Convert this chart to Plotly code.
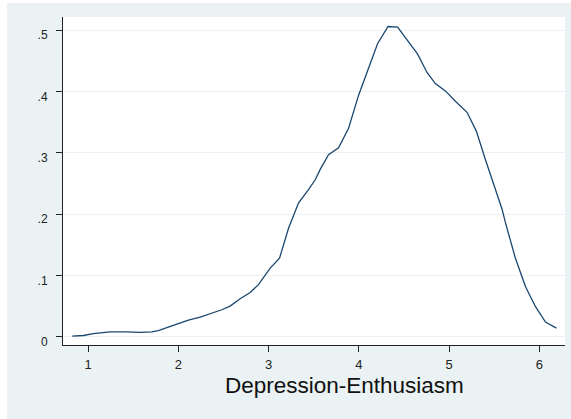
import plotly.graph_objects as go

x_vals = [0.826, 0.948, 1.059, 1.170, 1.244, 1.429, 1.576, 1.706, 1.779, 1.873,
          2.001, 2.112, 2.242, 2.371, 2.482, 2.574, 2.685, 2.796, 2.888, 3.018,
          3.121, 3.221, 3.331, 3.442, 3.517, 3.572, 3.664, 3.775, 3.886, 3.997,
          4.108, 4.207, 4.323, 4.429, 4.540, 4.651, 4.755, 4.847, 4.958, 5.069,
          5.198, 5.302, 5.401, 5.493, 5.586, 5.623, 5.734, 5.845, 5.956, 6.067,
          6.188]
density = [0.001, 0.002, 0.005, 0.007, 0.008, 0.008, 0.007, 0.008, 0.010, 0.015,
           0.022, 0.027, 0.032, 0.038, 0.044, 0.050, 0.062, 0.072, 0.085, 0.112,
           0.128, 0.177, 0.218, 0.240, 0.256, 0.273, 0.297, 0.308, 0.340, 0.394,
           0.438, 0.478, 0.506, 0.505, 0.483, 0.461, 0.431, 0.413, 0.401, 0.384,
           0.366, 0.335, 0.289, 0.248, 0.208, 0.186, 0.128, 0.082, 0.049, 0.024,
           0.014]

x_ticks = [1, 2, 3, 4, 5, 6]
x_tick_labels = ["1", "2", "3", "4", "5", "6"]
y_ticks = [0, 0.1, 0.2, 0.3, 0.4, 0.5]
y_tick_labels = ["0", ".1", ".2", ".3", ".4", ".5"]
x_title = "Depression-Enthusiasm"

BG = "#EAF2F3"
NAVY = "#1A476F"

fig = go.Figure()
fig.add_trace(go.Scatter(x=x_vals, y=density, mode="lines",
                         line=dict(color=NAVY, width=1.3), showlegend=False,
                         hoverinfo="skip"))

L, R, T, B = 63, 6, 17, 74
W, H = 571, 419
pw, ph = W - L - R, H - T - B

def px_x(p):
    return (p - L) / pw

def px_y(p):
    return (H - B - p) / ph

fig.update_layout(
    width=W, height=H,
    margin=dict(l=L, r=R, t=T, b=B, pad=0, autoexpand=False),
    paper_bgcolor=BG, plot_bgcolor="white",
    font=dict(family="Liberation Sans, Arial, sans-serif", color="#222222"),
    xaxis=dict(range=[0.723, 6.283], tickvals=x_ticks, ticktext=x_tick_labels,
               showgrid=False, zeroline=False, showline=True, linecolor="#222222",
               linewidth=1, ticks="outside", ticklen=6, tickcolor="#222222",
               tickfont=dict(size=13), ticklabelstandoff=1, automargin=False),
    yaxis=dict(range=[-0.0135, 0.5215], tickvals=y_ticks, ticktext=y_tick_labels,
               showgrid=True, gridcolor=BG, gridwidth=1, zeroline=False,
               showline=True, linecolor="#222222", linewidth=1, ticks="outside",
               ticklen=6, tickcolor="#222222", tickfont=dict(size=12),
               ticklabelshift=5, ticklabelstandoff=6, automargin=False),
    shapes=[
        dict(type="rect", xref="paper", yref="paper", x0=px_x(0), x1=px_x(7),
             y0=px_y(H), y1=px_y(0), fillcolor="white", line=dict(width=0),
             layer="above"),
        dict(type="rect", xref="paper", yref="paper", x0=px_x(0), x1=px_x(W),
             y0=px_y(3), y1=px_y(0), fillcolor="white", line=dict(width=0),
             layer="above"),
    ],
    annotations=[
        dict(text=x_title, xref="paper", yref="paper", x=px_x(344.5),
             y=px_y(385), xanchor="center", yanchor="middle", showarrow=False,
             font=dict(size=22.5, color="#111111")),
    ],
)

fig.write_html("out.html",
               config={"displayModeBar": False},
               post_script="document.body.style.margin='0';"
                           "document.body.style.overflow='hidden';")
